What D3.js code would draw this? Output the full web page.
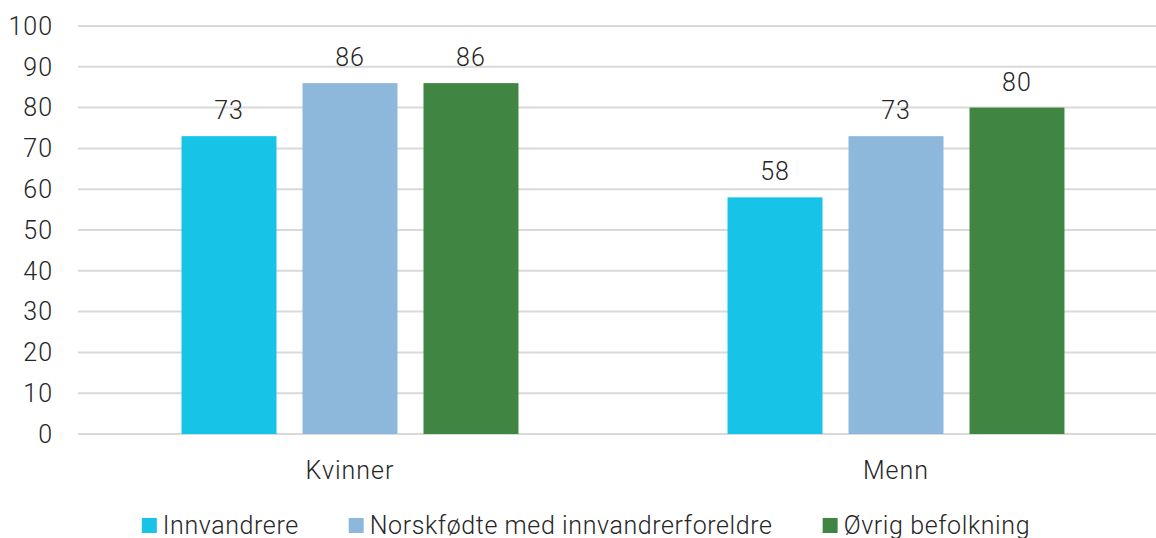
<!DOCTYPE html>
<html>
  <head>
    <meta charset="utf-8">
    <style>
      html, body { margin: 0; padding: 0; background: #fff; overflow: hidden; }
      text { font-family: Roboto, 'Open Sans', sans-serif; font-weight: 300; fill: #262626; letter-spacing: 1px; }
      .legend text { letter-spacing: 0.6px; }
    </style>
  </head>
  <body>
    <svg id="svg" width="1156" height="538"></svg>
    <script src="https://cdn.jsdelivr.net/npm/d3@7"></script>
    <script>
      const categories = ['Kvinner', 'Menn'];
      const series = ['Innvandrere', 'Norskfødte med innvandrerforeldre', 'Øvrig befolkning'];
      const colors = ['#17c4e8', '#8db8dc', '#418543'];
      const innvandrere = [73, 58];
      const norskfodte = [86, 73];
      const ovrig = [86, 80];
      const yTicks = [0, 10, 20, 30, 40, 50, 60, 70, 80, 90, 100];

      const values = [innvandrere, norskfodte, ovrig];
      const svg = d3.select('#svg');
      const fontSize = 25;

      const x0 = d3.scaleBand().domain(categories).range([77, 1169]).padding(0);
      const x1 = d3
        .scaleBand()
        .domain(series)
        .range([0, x0.bandwidth()])
        .paddingInner(0.215)
        .paddingOuter(0.864);
      const y = d3.scaleLinear().domain([0, 100]).range([434, 26]);

      // gridlines
      svg
        .append('g')
        .selectAll('line')
        .data(yTicks)
        .join('line')
        .attr('x1', 78)
        .attr('x2', 1156)
        .attr('y1', (d) => y(d))
        .attr('y2', (d) => y(d))
        .attr('stroke', '#d9d9d9')
        .attr('stroke-width', 2);

      // y tick labels
      svg
        .append('g')
        .selectAll('text')
        .data(yTicks)
        .join('text')
        .attr('x', 53)
        .attr('y', (d) => y(d))
        .attr('dy', '0.35em')
        .attr('text-anchor', 'end')
        .style('font-size', fontSize + 'px')
        .text((d) => d);

      // bars
      const groups = svg
        .append('g')
        .selectAll('g')
        .data(categories)
        .join('g')
        .attr('transform', (d) => `translate(${x0(d)},0)`);

      groups
        .selectAll('rect')
        .data((c, ci) => series.map((s, si) => ({ s, si, v: values[si][ci] })))
        .join('rect')
        .attr('x', (d) => x1(d.s))
        .attr('width', x1.bandwidth())
        .attr('y', (d) => y(d.v))
        .attr('height', (d) => y(0) - y(d.v))
        .attr('fill', (d) => colors[d.si]);

      groups
        .selectAll('text')
        .data((c, ci) => series.map((s, si) => ({ s, si, v: values[si][ci] })))
        .join('text')
        .attr('x', (d) => x1(d.s) + x1.bandwidth() / 2)
        .attr('y', (d) => y(d.v) - 17)
        .attr('text-anchor', 'middle')
        .style('font-size', fontSize + 'px')
        .text((d) => d.v);

      // category labels
      svg
        .append('g')
        .selectAll('text')
        .data(categories)
        .join('text')
        .attr('x', (d) => x0(d) + x0.bandwidth() / 2)
        .attr('y', 479)
        .attr('text-anchor', 'middle')
        .style('font-size', fontSize + 'px')
        .text((d) => d);

      // legend
      const legend = svg.append('g').attr('class', 'legend');
      let lx = 0;
      series.forEach((s, i) => {
        const item = legend.append('g').attr('transform', `translate(${lx},0)`);
        item
          .append('rect')
          .attr('x', 0)
          .attr('y', 518)
          .attr('width', 15)
          .attr('height', 15)
          .attr('fill', colors[i]);
        const t = item
          .append('text')
          .attr('x', 21)
          .attr('y', 534)
          .style('font-size', fontSize + 'px')
          .text(s);
        lx += 21 + t.node().getComputedTextLength() + 50;
      });
      const legendWidth = lx - 50;
      legend.attr('transform', `translate(${586 - legendWidth / 2},0)`);
    </script>
  </body>
</html>
